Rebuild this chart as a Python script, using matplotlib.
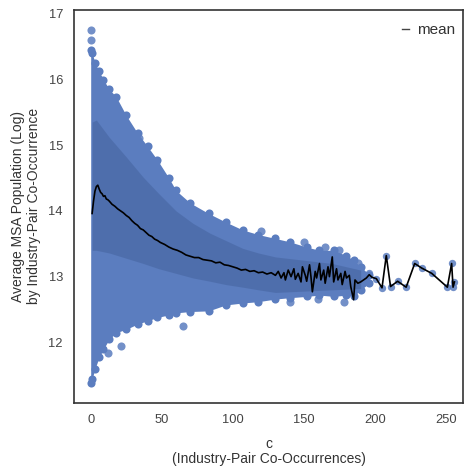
import numpy as np
import matplotlib
matplotlib.use("Agg")
import matplotlib.pyplot as plt

plt.rcParams['font.family'] = ['Liberation Sans', 'DejaVu Sans']

# envelope of the scatter cloud (c, upper edge, lower edge)
cloud_c = [0, 1, 3, 6, 9, 13, 18, 25, 33, 40, 47, 55, 60, 70, 83, 95,
           107, 118, 130, 140, 152, 161, 171, 180, 185, 190, 196]
cloud_top = [16.44, 16.40, 16.25, 16.12, 15.99, 15.85, 15.73, 15.45, 15.18, 14.98,
             14.77, 14.50, 14.31, 14.12, 13.96, 13.83, 13.71, 13.64, 13.58, 13.53,
             13.45, 13.40, 13.40, 13.32, 13.25, 13.15, 13.03]
cloud_bot = [11.38, 11.45, 11.60, 11.78, 11.90, 12.05, 12.15, 12.20, 12.28, 12.33,
             12.38, 12.42, 12.45, 12.47, 12.48, 12.57, 12.60, 12.62, 12.66, 12.68,
             12.70, 12.72, 12.70, 12.72, 12.70, 12.80, 12.90]

# darker band around the mean
band_c = [1, 4, 13, 25, 37, 48, 60, 72, 84, 95, 107, 118, 130, 150, 170, 190]
band_hi = [15.35, 15.38, 15.12, 14.82, 14.51, 14.26, 14.00, 13.81, 13.66, 13.55,
           13.43, 13.36, 13.30, 13.25, 13.20, 13.10]
band_lo = [13.40, 13.40, 13.36, 13.28, 13.20, 13.12, 13.05, 12.98, 12.93, 12.88,
           12.84, 12.80, 12.76, 12.78, 12.80, 12.82]

# isolated points outside the cloud
out_c = [0, 0, 12, 21, 65, 46, 34, 120, 150, 165, 175, 188, 140, 160, 178]
out_v = [16.75, 16.60, 11.84, 11.94, 12.25, 14.74, 15.10, 13.70, 13.52, 13.45,
         13.40, 13.20, 12.62, 12.66, 12.62]

# mean by c
mean_c = [1, 2, 3, 4, 5, 6, 7, 8, 9, 10, 11, 12, 13, 15, 17, 19, 21, 23, 25, 27,
          29, 31, 33, 35, 37, 39, 41, 43, 45, 47, 49, 52, 55, 58, 61, 64, 67, 70,
          73, 76, 79, 82, 85, 88, 91, 94, 97, 100, 103, 106, 109, 112, 115, 118,
          121, 124, 127, 130, 132, 134, 136, 137, 139, 141, 143, 144, 146, 148,
          149, 151, 152, 154, 155, 156, 158, 159, 161, 162, 164, 165, 167, 168,
          170, 171, 173, 174, 176, 177, 179, 180, 182, 183, 185, 186, 188, 190,
          192, 194, 196, 198, 201, 205, 208, 211, 216, 222, 228, 233, 240, 251,
          254, 255, 256]
mean_v = [13.96, 14.15, 14.30, 14.37, 14.39, 14.33, 14.28, 14.26, 14.22, 14.23,
          14.18, 14.17, 14.15, 14.10, 14.07, 14.03, 14.00, 13.97, 13.93, 13.90,
          13.85, 13.81, 13.78, 13.73, 13.71, 13.67, 13.63, 13.61, 13.57, 13.55,
          13.52, 13.49, 13.45, 13.42, 13.40, 13.37, 13.33, 13.31, 13.29, 13.29,
          13.26, 13.25, 13.24, 13.21, 13.22, 13.18, 13.17, 13.15, 13.13, 13.10,
          13.11, 13.08, 13.09, 13.06, 13.07, 13.04, 13.06, 13.02, 13.08, 12.98,
          13.06, 12.95, 13.10, 13.00, 13.12, 12.96, 13.05, 12.92, 13.15, 13.02,
          12.93, 13.18, 13.00, 12.77, 13.08, 12.98, 13.20, 12.95, 13.10, 12.90,
          13.15, 13.00, 13.30, 12.92, 13.12, 12.95, 13.05, 12.88, 13.08, 12.98,
          13.02, 12.85, 12.65, 12.95, 12.90, 12.92, 12.95, 12.98, 13.03, 12.99,
          12.97, 12.83, 13.32, 12.85, 12.93, 12.84, 13.20, 13.13, 13.05, 12.84,
          13.20, 12.84, 12.92]

# sparse tail points (few pairs per c)
tail_c = [196, 201, 205, 208, 211, 216, 222, 228, 233, 240, 251, 254, 255, 256]
tail_v = [13.05, 12.97, 12.83, 13.32, 12.85, 12.93, 12.84, 13.20, 13.13, 13.05,
          12.84, 13.20, 12.84, 12.92]

light = '#5b7dbf'
dark = '#4867a3'
text_col = '#333333'

fig = plt.figure(figsize=(4.65, 4.76), dpi=100)
ax = fig.add_axes([74 / 465, 1 - 403 / 476, 389 / 465, 393.5 / 476])

ax.fill_between(cloud_c, cloud_bot, cloud_top, color=light, lw=0, zorder=1)
ax.scatter(cloud_c, cloud_top, s=34, color=light, lw=0, zorder=1)
ax.scatter(cloud_c, cloud_bot, s=34, color=light, lw=0, zorder=1)
ax.scatter(out_c, out_v, s=34, color=light, lw=0, alpha=0.85, zorder=1)
ax.scatter(tail_c, tail_v, s=28, color=light, lw=0, alpha=0.85, zorder=1)
ax.fill_between(band_c, band_lo, band_hi, color=dark, alpha=0.65, lw=0, zorder=2)

ax.plot(mean_c, mean_v, color='black', lw=1.2, zorder=3, label='mean')

ax.set_xlim(-11.75, 262)
ax.set_ylim(11.08, 17.06)
ax.set_xticks([0, 50, 100, 150, 200, 250])
ax.set_yticks([12, 13, 14, 15, 16, 17])
ax.tick_params(length=0, labelsize=9.3, labelcolor='#444444', pad=8)
for s in ax.spines.values():
    s.set_color('#333333')
    s.set_linewidth(1.2)

ax.set_xlabel('c\n(Industry-Pair Co-Occurrences)', fontsize=10, color=text_col,
              labelpad=8, linespacing=1.1)
ax.set_ylabel('Average MSA Population (Log)\nby Industry-Pair Co-Occurrence',
              fontsize=10, color=text_col, labelpad=5)

leg = ax.legend(loc='upper right', frameon=False, fontsize=11, handlelength=0.5,
                handletextpad=0.5, bbox_to_anchor=(1.015, 1.0))
for t in leg.get_texts():
    t.set_color(text_col)
for h in leg.get_lines():
    h.set_color('#444444')
    h.set_linewidth(1.0)

fig.savefig('out.png', dpi=100)
